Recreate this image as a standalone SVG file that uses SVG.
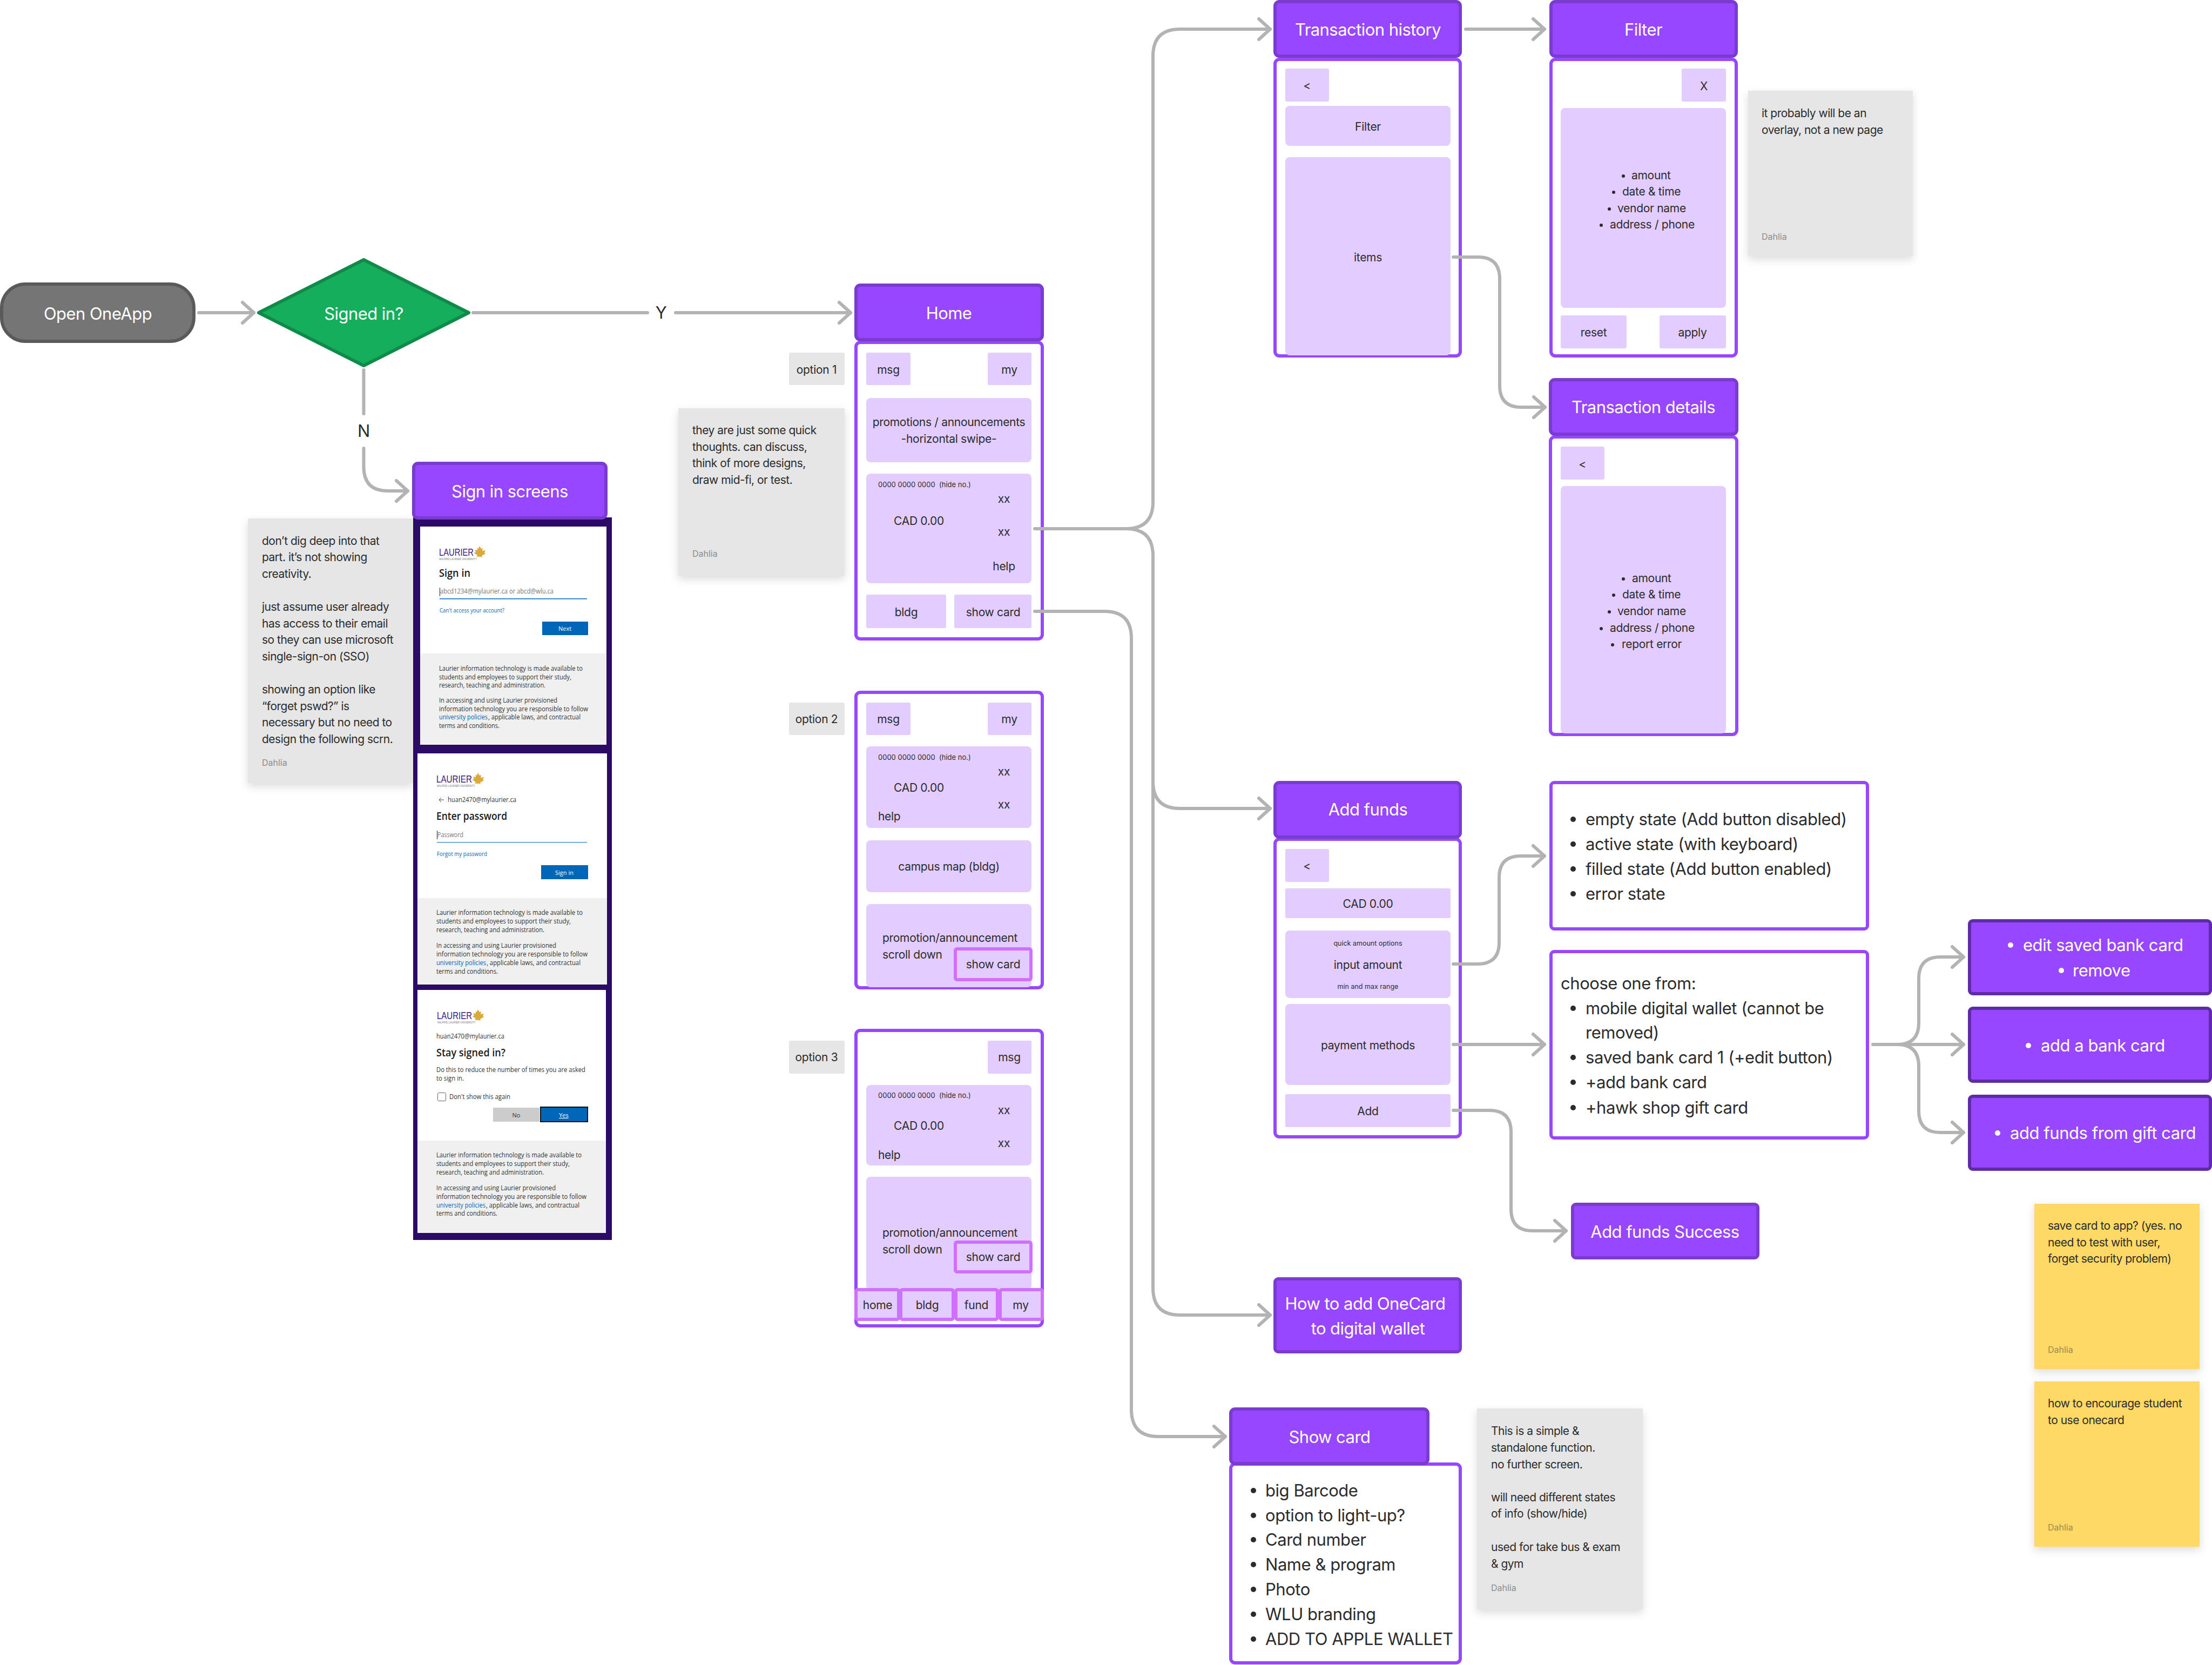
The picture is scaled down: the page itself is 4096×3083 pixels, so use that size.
<svg xmlns="http://www.w3.org/2000/svg" width="4096" height="3083" viewBox="0 0 4096 3083">
<defs>
<filter id="sh" x="-10%" y="-10%" width="120%" height="120%"><feDropShadow dx="0" dy="6" stdDeviation="8" flood-color="#000" flood-opacity="0.14"/></filter>
<marker id="arr" markerUnits="userSpaceOnUse" markerWidth="36" markerHeight="50" refX="30" refY="25" orient="auto"><path d="M9 6 L30 25 L9 44" fill="none" stroke="#b3b3b3" stroke-width="6" stroke-linecap="round" stroke-linejoin="round"/></marker>
<g id="leaf"><path d="M10 0 L13 5 L16 4 L15 9 L21 8 L19 12 L21 14 L14 18 L15 21 L10 19.5 L10 22 L9 19.5 L4 20 L6 17 L0 13 L3 11 L1 7 L6 8 L6 3 L8 5 Z" fill="#d9a93b"/></g>
</defs>
<style>
text{font-family:"Inter","Noto Sans",sans-serif;fill:#2c2c2c}
.hd{fill:#9747ff;stroke:#7a3bcf;stroke-width:6}
.bd{fill:#fff;stroke:#9747ff;stroke-width:6}
.li{fill:#e3ccff}
.hl{fill:#e3ccff;stroke:#d070ff;stroke-width:6}
.opt{fill:#e6e6e6}
.note{fill:#e6e6e6;filter:url(#sh)}
.yel{fill:#ffd966;filter:url(#sh)}
.ht{fill:#fff;font-size:31px;text-anchor:middle;letter-spacing:-.55px;transform:translateY(1px)}
.s{font-size:21px;letter-spacing:-.3px;transform:translateY(1px)}
.c{text-anchor:middle}
.xs{font-size:13px;white-space:pre}
.m{font-size:31px;letter-spacing:-.45px}
.n{font-size:21px;letter-spacing:-.5px}
.by{font-size:16px;fill:#8c8c8c}
.ms{font-family:"Open Sans","Noto Sans",sans-serif;font-size:12.5px;fill:#333}
.msh{font-family:"Open Sans","Noto Sans",sans-serif;font-size:19px;font-weight:600;fill:#1b1b1b}
.lnk{fill:#0067b8}
.lau{font-family:"Liberation Sans",sans-serif;font-size:18px;fill:#3b1a80}
.lau2{font-family:"Liberation Sans",sans-serif;font-size:4.5px;fill:#777}
.conn{fill:none;stroke:#b3b3b3;stroke-width:6;stroke-linecap:round}
.dot{fill:#2c2c2c}
</style>

<g id="open-oneapp"><rect x="3" y="526" width="356" height="106" rx="44" fill="#757575" stroke="#5a5a5a" stroke-width="6"/><text x="181" y="591" class="ht">Open OneApp</text></g>
<g id="signed-in"><path d="M673.5 481 L868 579 L673.5 677 L479 579 Z" fill="#14ae5c" stroke="#0f8a49" stroke-width="6" stroke-linejoin="round"/><text x="673.5" y="591" class="ht">Signed in?</text></g>
<g id="label-n"><text x="673.5" y="809" class="m c">N</text></g>
<g id="label-y"><text x="1224" y="590" class="m c">Y</text></g>

<g id="sign-in-note"><rect class="note" x="459" y="960" width="306" height="490"/>
<text class="n" x="485" y="1009">don’t dig deep into that</text><text class="n" x="485" y="1039">part. it’s not showing</text><text class="n" x="485" y="1070">creativity.</text>
<text class="n" x="485" y="1131">just assume user already</text><text class="n" x="485" y="1162">has access to their email</text><text class="n" x="485" y="1192">so they can use microsoft</text><text class="n" x="485" y="1223">single-sign-on (SSO)</text>
<text class="n" x="485" y="1284">showing an option like</text><text class="n" x="485" y="1315">“forget pswd?” is</text><text class="n" x="485" y="1345">necessary but no need to</text><text class="n" x="485" y="1376">design the following scrn.</text>
<text class="by" x="485" y="1418">Dahlia</text></g>

<g id="sign-in-screens">
<rect x="765" y="958" width="368" height="1338" fill="#2c0b66"/>
<rect x="778" y="975" width="345" height="235" fill="#fff"/><rect x="778" y="1210" width="345" height="169" fill="#f0f0f0"/>
<text class="lau" x="813" y="1029" textLength="64" lengthAdjust="spacingAndGlyphs">LAURIER</text><use href="#leaf" x="878" y="1011"/><text class="lau2" x="813" y="1037" textLength="70" lengthAdjust="spacingAndGlyphs">WILFRID LAURIER UNIVERSITY</text>
<text class="msh" x="813" y="1068" textLength="58" lengthAdjust="spacingAndGlyphs">Sign in</text>
<rect x="814" y="1088" width="1" height="16" fill="#222"/>
<text class="ms" x="815" y="1099" textLength="210" lengthAdjust="spacingAndGlyphs" style="fill:#777">abcd1234@mylaurier.ca or abcd@wlu.ca</text>
<rect x="814" y="1108" width="273" height="1.5" fill="#0067b8"/>
<text class="ms lnk" x="814" y="1134" style="font-size:10.5px;fill:#0067b8" textLength="120" lengthAdjust="spacingAndGlyphs">Can't access your account?</text>
<rect x="1004" y="1151" width="85" height="25" fill="#0067b8"/><text class="ms c" x="1046" y="1168" style="fill:#fff;font-size:11px">Next</text>
<text class="ms" x="813" y="1242" textLength="266" lengthAdjust="spacingAndGlyphs">Laurier information technology is made available to</text><text class="ms" x="813" y="1258" textLength="245" lengthAdjust="spacingAndGlyphs">students and employees to support their study,</text><text class="ms" x="813" y="1273" textLength="197" lengthAdjust="spacingAndGlyphs">research, teaching and administration.</text>
<text class="ms" x="813" y="1301" textLength="219" lengthAdjust="spacingAndGlyphs">In accessing and using Laurier provisioned</text><text class="ms" x="813" y="1317" textLength="276" lengthAdjust="spacingAndGlyphs">information technology you are responsible to follow</text><text class="ms" x="813" y="1332" style="fill:#0067b8" textLength="90" lengthAdjust="spacingAndGlyphs">university policies</text><text class="ms" x="904" y="1332" textLength="171" lengthAdjust="spacingAndGlyphs">, applicable laws, and contractual</text><text class="ms" x="813" y="1348" textLength="112" lengthAdjust="spacingAndGlyphs">terms and conditions.</text>

<rect x="773" y="1395" width="351" height="268" fill="#fff"/><rect x="773" y="1663" width="351" height="160" fill="#f0f0f0"/>
<text class="lau" x="808" y="1449" textLength="66" lengthAdjust="spacingAndGlyphs">LAURIER</text><use href="#leaf" x="875" y="1431"/><text class="lau2" x="809" y="1457" textLength="71" lengthAdjust="spacingAndGlyphs">WILFRID LAURIER UNIVERSITY</text>
<path d="M822 1481 H813 M817 1477 L813 1481 L817 1485" fill="none" stroke="#444" stroke-width="1"/>
<text class="ms" x="829" y="1485" textLength="127" lengthAdjust="spacingAndGlyphs">huan2470@mylaurier.ca</text>
<text class="msh" x="808" y="1518" textLength="131" lengthAdjust="spacingAndGlyphs">Enter password</text>
<rect x="809" y="1538" width="1" height="16" fill="#222"/>
<text class="ms" x="810" y="1550" style="fill:#777" textLength="48" lengthAdjust="spacingAndGlyphs">Password</text>
<rect x="809" y="1559" width="278" height="1.5" fill="#4b97d9"/>
<text class="ms" x="809" y="1585" style="font-size:10.5px;fill:#0067b8" textLength="93" lengthAdjust="spacingAndGlyphs">Forgot my password</text>
<rect x="1002" y="1602" width="87" height="26" fill="#0067b8"/><text class="ms c" x="1045" y="1620" style="fill:#fff;font-size:11px">Sign in</text>
<text class="ms" x="808" y="1694" textLength="271" lengthAdjust="spacingAndGlyphs">Laurier information technology is made available to</text><text class="ms" x="808" y="1710" textLength="249" lengthAdjust="spacingAndGlyphs">students and employees to support their study,</text><text class="ms" x="808" y="1726" textLength="200" lengthAdjust="spacingAndGlyphs">research, teaching and administration.</text>
<text class="ms" x="808" y="1755" textLength="222" lengthAdjust="spacingAndGlyphs">In accessing and using Laurier provisioned</text><text class="ms" x="808" y="1771" textLength="280" lengthAdjust="spacingAndGlyphs">information technology you are responsible to follow</text><text class="ms" x="808" y="1787" style="fill:#0067b8" textLength="92" lengthAdjust="spacingAndGlyphs">university policies</text><text class="ms" x="901" y="1787" textLength="174" lengthAdjust="spacingAndGlyphs">, applicable laws, and contractual</text><text class="ms" x="808" y="1803" textLength="114" lengthAdjust="spacingAndGlyphs">terms and conditions.</text>

<rect x="773" y="1833" width="349" height="279" fill="#fff"/><rect x="773" y="2112" width="349" height="171" fill="#f0f0f0"/>
<text class="lau" x="809" y="1887" textLength="65" lengthAdjust="spacingAndGlyphs">LAURIER</text><use href="#leaf" x="875" y="1869"/><text class="lau2" x="810" y="1895" textLength="71" lengthAdjust="spacingAndGlyphs">WILFRID LAURIER UNIVERSITY</text>
<text class="ms" x="808" y="1923" textLength="126" lengthAdjust="spacingAndGlyphs">huan2470@mylaurier.ca</text>
<text class="msh" x="808" y="1956" textLength="128" lengthAdjust="spacingAndGlyphs">Stay signed in?</text>
<text class="ms" x="808" y="1985" textLength="276" lengthAdjust="spacingAndGlyphs">Do this to reduce the number of times you are asked</text><text class="ms" x="808" y="2001" textLength="51" lengthAdjust="spacingAndGlyphs">to sign in.</text>
<rect x="810.5" y="2023.5" width="15" height="15" rx="2" fill="#fff" stroke="#666" stroke-width="1"/>
<text class="ms" x="832" y="2035" textLength="113" lengthAdjust="spacingAndGlyphs">Don't show this again</text>
<rect x="913" y="2051" width="86" height="26" fill="#ccc"/><text class="ms c" x="956" y="2069" style="font-size:11px">No</text>
<rect x="1001" y="2050" width="87" height="27" fill="#0067b8" stroke="#111" stroke-width="2"/><text class="ms c" x="1044" y="2069" style="fill:#fff;font-size:11px;text-decoration:underline">Yes</text>
<text class="ms" x="808" y="2143" textLength="269" lengthAdjust="spacingAndGlyphs">Laurier information technology is made available to</text><text class="ms" x="808" y="2159" textLength="247" lengthAdjust="spacingAndGlyphs">students and employees to support their study,</text><text class="ms" x="808" y="2175" textLength="199" lengthAdjust="spacingAndGlyphs">research, teaching and administration.</text>
<text class="ms" x="808" y="2204" textLength="221" lengthAdjust="spacingAndGlyphs">In accessing and using Laurier provisioned</text><text class="ms" x="808" y="2220" textLength="278" lengthAdjust="spacingAndGlyphs">information technology you are responsible to follow</text><text class="ms" x="808" y="2236" style="fill:#0067b8" textLength="91" lengthAdjust="spacingAndGlyphs">university policies</text><text class="ms" x="900" y="2236" textLength="173" lengthAdjust="spacingAndGlyphs">, applicable laws, and contractual</text><text class="ms" x="808" y="2251" textLength="113" lengthAdjust="spacingAndGlyphs">terms and conditions.</text>
</g>
<g id="sign-in-header"><rect class="hd" x="766" y="858" width="356" height="101" rx="8"/><text x="944" y="920" class="ht">Sign in screens</text></g>

<g id="home"><rect class="bd" x="1585" y="634" width="345" height="549" rx="8"/><rect class="hd" x="1585" y="528" width="345" height="101" rx="8"/><text x="1757" y="590" class="ht">Home</text>
<rect class="li" x="1604" y="653" width="82" height="60" rx="3"/><text class="s c" x="1645" y="691">msg</text>
<rect class="li" x="1829" y="653" width="81" height="60" rx="3"/><text class="s c" x="1869" y="691">my</text>
<rect class="li" x="1604" y="737" width="306" height="119" rx="8"/><text class="s c" x="1757" y="788">promotions / announcements</text><text class="s c" x="1757" y="819">-horizontal swipe-</text>
<rect class="li" x="1604" y="877" width="306" height="203" rx="8"/><text class="xs" x="1626" y="902" xml:space="preserve">0000 0000 0000  (hide no.)</text><text class="s c" x="1859" y="930">xx</text><text class="s c" x="1859" y="991">xx</text><text class="s" x="1701.5" y="971" text-anchor="middle">CAD 0.00</text><text class="s c" x="1859" y="1055">help</text>
<rect class="li" x="1604" y="1101" width="148" height="62" rx="3"/><text class="s c" x="1678" y="1140">bldg</text>
<rect class="li" x="1767" y="1101" width="143" height="62" rx="3"/><text class="s c" x="1839" y="1140">show card</text>
</g>
<g id="option-1"><rect class="opt" x="1461" y="653" width="103" height="60" rx="3"/><text class="s c" x="1512" y="691">option 1</text></g>
<g id="home-note"><rect class="note" x="1256" y="756" width="308" height="310"/><text class="n" x="1282" y="804">they are just some quick</text><text class="n" x="1282" y="835">thoughts. can discuss,</text><text class="n" x="1282" y="865">think of more designs,</text><text class="n" x="1282" y="896">draw mid-fi, or test.</text><text class="by" x="1282" y="1031">Dahlia</text></g>

<g id="home-option-2"><rect class="bd" x="1585" y="1282" width="345" height="547" rx="8"/>
<rect class="li" x="1604" y="1301" width="82" height="60" rx="3"/><text class="s c" x="1645" y="1338">msg</text>
<rect class="li" x="1829" y="1301" width="81" height="60" rx="3"/><text class="s c" x="1869" y="1338">my</text>
<rect class="li" x="1604" y="1382" width="306" height="151" rx="8"/><text class="xs" x="1626" y="1407" xml:space="preserve">0000 0000 0000  (hide no.)</text><text class="s c" x="1859" y="1435">xx</text><text class="s c" x="1859" y="1496">xx</text><text class="s c" x="1701.5" y="1465">CAD 0.00</text><text class="s" x="1626" y="1518">help</text>
<rect class="li" x="1604" y="1556" width="306" height="96" rx="8"/><text class="s c" x="1757" y="1611">campus map (bldg)</text>
<rect class="li" x="1604" y="1674" width="306" height="154" rx="8"/><text class="s" x="1634" y="1743">promotion/announcement</text><text class="s" x="1634" y="1774">scroll down</text>
<rect class="hl" x="1769" y="1757" width="140" height="57" rx="3"/><text class="s c" x="1839" y="1792">show card</text>
</g>
<g id="option-2"><rect class="opt" x="1461" y="1301" width="103" height="60" rx="3"/><text class="s c" x="1512" y="1338">option 2</text></g>

<g id="home-option-3"><rect class="bd" x="1585" y="1908" width="345" height="547" rx="8"/>
<rect class="li" x="1829" y="1927" width="81" height="61" rx="3"/><text class="s c" x="1869" y="1964">msg</text>
<rect class="li" x="1604" y="2009" width="306" height="149" rx="8"/><text class="xs" x="1626" y="2033" xml:space="preserve">0000 0000 0000  (hide no.)</text><text class="s c" x="1859" y="2062">xx</text><text class="s c" x="1859" y="2123">xx</text><text class="s c" x="1701.5" y="2091">CAD 0.00</text><text class="s" x="1626" y="2145">help</text>
<rect class="li" x="1604" y="2179" width="306" height="210" rx="8"/><text class="s" x="1634" y="2289">promotion/announcement</text><text class="s" x="1634" y="2320">scroll down</text>
<rect class="hl" x="1769" y="2300" width="140" height="55" rx="3"/><text class="s c" x="1839" y="2334">show card</text>
<rect class="hl" x="1585" y="2388" width="79" height="55" rx="3"/><text class="s c" x="1625" y="2423">home</text>
<rect class="hl" x="1668" y="2388" width="97" height="55" rx="3"/><text class="s c" x="1717" y="2423">bldg</text>
<rect class="hl" x="1770" y="2388" width="77" height="55" rx="3"/><text class="s c" x="1808" y="2423">fund</text>
<rect class="hl" x="1852" y="2388" width="78" height="55" rx="3"/><text class="s c" x="1890" y="2423">my</text>
</g>
<g id="option-3"><rect class="opt" x="1461" y="1927" width="103" height="61" rx="3"/><text class="s c" x="1512" y="1964">option 3</text></g>

<g id="transaction-history"><rect class="bd" x="2361" y="110" width="343" height="549" rx="8"/><rect class="hd" x="2361" y="3" width="343" height="101" rx="8"/><text x="2533" y="65" class="ht">Transaction history</text>
<rect class="li" x="2380" y="127" width="81" height="61" rx="3"/><text class="s c" x="2420" y="165">&lt;</text>
<rect class="li" x="2380" y="196" width="306" height="74" rx="8"/><text class="s c" x="2533" y="241">Filter</text>
<rect class="li" x="2380" y="291" width="306" height="367" rx="8"/><text class="s c" x="2533" y="483">items</text></g>

<g id="filter"><rect class="bd" x="2872" y="110" width="343" height="549" rx="8"/><rect class="hd" x="2872" y="3" width="343" height="101" rx="8"/><text x="3043" y="65" class="ht">Filter</text>
<rect class="li" x="3114" y="127" width="82" height="61" rx="3"/><text class="s c" x="3155" y="166">X</text>
<rect class="li" x="2890" y="200" width="306" height="370" rx="8"/>
<circle class="dot" cx="3006" cy="326" r="3"/><text class="s" x="3021" y="331">amount</text>
<circle class="dot" cx="2988" cy="356" r="3"/><text class="s" x="3004" y="361">date &amp; time</text>
<circle class="dot" cx="2980" cy="387" r="3"/><text class="s" x="2995" y="392">vendor name</text>
<circle class="dot" cx="2965" cy="417" r="3"/><text class="s" x="2981" y="422">address / phone</text>
<rect class="li" x="2890" y="584" width="122" height="61" rx="3"/><text class="s c" x="2951" y="622">reset</text>
<rect class="li" x="3073" y="584" width="123" height="61" rx="3"/><text class="s c" x="3134" y="622">apply</text></g>
<g id="filter-note"><rect class="note" x="3237" y="168" width="305" height="306"/><text class="n" x="3262" y="217">it probably will be an</text><text class="n" x="3262" y="248">overlay, not a new page</text><text class="by" x="3262" y="444">Dahlia</text></g>

<g id="transaction-details"><rect class="bd" x="2871" y="809" width="345" height="551" rx="8"/><rect class="hd" x="2871" y="703" width="345" height="101" rx="8"/><text x="3043" y="764" class="ht">Transaction details</text>
<rect class="li" x="2890" y="827" width="81" height="61" rx="3"/><text class="s c" x="2930" y="866">&lt;</text>
<rect class="li" x="2890" y="900" width="306" height="458" rx="8"/>
<circle class="dot" cx="3006" cy="1072" r="3"/><text class="s" x="3022" y="1077">amount</text>
<circle class="dot" cx="2988" cy="1102" r="3"/><text class="s" x="3004" y="1107">date &amp; time</text>
<circle class="dot" cx="2980" cy="1133" r="3"/><text class="s" x="2995" y="1138">vendor name</text>
<circle class="dot" cx="2965" cy="1164" r="3"/><text class="s" x="2981" y="1169">address / phone</text>
<circle class="dot" cx="2986" cy="1194" r="3"/><text class="s" x="3003" y="1199">report error</text></g>

<g id="add-funds"><rect class="bd" x="2361" y="1554" width="343" height="551" rx="8"/><rect class="hd" x="2361" y="1449" width="343" height="101" rx="8"/><text x="2533" y="1509" class="ht">Add funds</text>
<rect class="li" x="2380" y="1572" width="81" height="61" rx="3"/><text class="s c" x="2420" y="1610">&lt;</text>
<rect class="li" x="2380" y="1645" width="306" height="55" rx="3"/><text class="s c" x="2533" y="1680">CAD 0.00</text>
<rect class="li" x="2380" y="1723" width="306" height="125" rx="8"/><text class="c" style="font-size:12.5px" x="2533" y="1751">quick amount options</text><text class="s c" x="2533" y="1793">input amount</text><text class="c" style="font-size:12.5px" x="2533" y="1831">min and max range</text>
<rect class="li" x="2380" y="1859" width="306" height="150" rx="8"/><text class="s c" x="2533" y="1942">payment methods</text>
<rect class="li" x="2380" y="2026" width="306" height="61" rx="3"/><text class="s c" x="2533" y="2064">Add</text></g>

<g id="states"><rect class="bd" x="2872" y="1449" width="586" height="271" rx="6"/>
<circle class="dot" cx="2913" cy="1517" r="5"/><text class="m" x="2936" y="1528">empty state (Add button disabled)</text>
<circle class="dot" cx="2913" cy="1563" r="5"/><text class="m" x="2936" y="1574">active state (with keyboard)</text>
<circle class="dot" cx="2913" cy="1609" r="5"/><text class="m" x="2936" y="1620">filled state (Add button enabled)</text>
<circle class="dot" cx="2913" cy="1655" r="5"/><text class="m" x="2936" y="1666">error state</text></g>

<g id="payment-options"><rect class="bd" x="2872" y="1762" width="586" height="345" rx="6"/>
<text class="m" x="2890" y="1832">choose one from:</text>
<circle class="dot" cx="2913" cy="1867" r="5"/><text class="m" x="2936" y="1878">mobile digital wallet (cannot be</text><text class="m" x="2936" y="1923">removed)</text>
<circle class="dot" cx="2913" cy="1958" r="5"/><text class="m" x="2936" y="1969">saved bank card 1 (+edit button)</text>
<circle class="dot" cx="2913" cy="2004" r="5"/><text class="m" x="2936" y="2015">+add bank card</text>
<circle class="dot" cx="2913" cy="2051" r="5"/><text class="m" x="2936" y="2062">+hawk shop gift card</text></g>

<g id="edit-bank"><rect x="3647" y="1705" width="446" height="135" rx="6" fill="#9747ff" stroke="#5f2ca8" stroke-width="6"/><circle cx="3723" cy="1750" r="5" fill="#fff"/><text class="m" style="fill:#fff" x="3746" y="1761">edit saved bank card</text><circle cx="3817" cy="1797" r="5" fill="#fff"/><text class="m" style="fill:#fff" x="3838" y="1808">remove</text></g>
<g id="add-bank"><rect x="3647" y="1867" width="446" height="135" rx="6" fill="#9747ff" stroke="#5f2ca8" stroke-width="6"/><circle cx="3756" cy="1936" r="5" fill="#fff"/><text class="m" style="fill:#fff" x="3779" y="1947">add a bank card</text></g>
<g id="gift-card"><rect x="3647" y="2030" width="446" height="135" rx="6" fill="#9747ff" stroke="#5f2ca8" stroke-width="6"/><circle cx="3699" cy="2098" r="5" fill="#fff"/><text class="m" style="fill:#fff" x="3722" y="2109">add funds from gift card</text></g>

<g id="add-funds-success"><rect class="hd" x="2912" y="2230" width="343" height="99" rx="6"/><text x="3083" y="2291" class="ht">Add funds Success</text></g>
<g id="how-to-add"><rect class="hd" x="2361" y="2368" width="343" height="135" rx="6"/><text x="2528" y="2424" class="ht">How to add OneCard</text><text x="2533" y="2470" class="ht">to digital wallet</text></g>

<g id="show-card"><rect class="bd" x="2279" y="2711" width="425" height="368" rx="8"/><rect class="hd" x="2279" y="2609" width="365" height="101" rx="8"/><text x="2462" y="2671" class="ht">Show card</text>
<circle class="dot" cx="2321" cy="2760" r="5"/><text class="m" x="2343" y="2771">big Barcode</text>
<circle class="dot" cx="2321" cy="2806" r="5"/><text class="m" x="2343" y="2817">option to light-up?</text>
<circle class="dot" cx="2321" cy="2851" r="5"/><text class="m" x="2343" y="2862">Card number</text>
<circle class="dot" cx="2321" cy="2897" r="5"/><text class="m" x="2343" y="2908">Name &amp; program</text>
<circle class="dot" cx="2321" cy="2943" r="5"/><text class="m" x="2343" y="2954">Photo</text>
<circle class="dot" cx="2321" cy="2989" r="5"/><text class="m" x="2343" y="3000">WLU branding</text>
<circle class="dot" cx="2321" cy="3035" r="5"/><text class="m" x="2343" y="3046">ADD TO APPLE WALLET</text></g>
<g id="show-card-note"><rect class="note" x="2735" y="2608" width="307" height="372"/>
<text class="n" x="2761" y="2657">This is a simple &amp;</text><text class="n" x="2761" y="2688">standalone function.</text><text class="n" x="2761" y="2719">no further screen.</text>
<text class="n" x="2761" y="2780">will need different states</text><text class="n" x="2761" y="2810">of info (show/hide)</text>
<text class="n" x="2761" y="2872">used for take bus &amp; exam</text><text class="n" x="2761" y="2903">&amp; gym</text>
<text class="by" x="2761" y="2946">Dahlia</text></g>
<g id="sticky-1"><rect class="yel" x="3767" y="2229" width="306" height="306"/><text class="n" x="3792" y="2277">save card to app? (yes. no</text><text class="n" x="3792" y="2308">need to test with user,</text><text class="n" x="3792" y="2338">forget security problem)</text><text class="by" style="fill:#9a8a50" x="3792" y="2505">Dahlia</text></g>
<g id="sticky-2"><rect class="yel" x="3767" y="2558" width="306" height="306"/><text class="n" x="3792" y="2606">how to encourage student</text><text class="n" x="3792" y="2637">to use onecard</text><text class="by" style="fill:#9a8a50" x="3792" y="2834">Dahlia</text></g>

<g id="connectors">
<path class="conn" marker-end="url(#arr)" d="M368 579 H470"/>
<path class="conn" d="M876 579 H1199"/>
<path class="conn" marker-end="url(#arr)" d="M1251 579 H1575"/>
<path class="conn" d="M673.5 685 V766"/>
<path class="conn" marker-end="url(#arr)" d="M673.5 830 V864 Q673.5 909 718 909 H755"/>
<path class="conn" marker-end="url(#arr)" d="M1916 979 H2085 Q2135 979 2135 929 V104 Q2135 54 2185 54 H2352"/>
<path class="conn" marker-end="url(#arr)" d="M2085 979 Q2135 979 2135 1029 V1447 Q2135 1497 2185 1497 H2352"/>
<path class="conn" marker-end="url(#arr)" d="M2135 1400 V2385 Q2135 2435 2185 2435 H2352"/>
<path class="conn" marker-end="url(#arr)" d="M1916 1132 H2045 Q2095 1132 2095 1182 V2610 Q2095 2660 2145 2660 H2269"/>
<path class="conn" marker-end="url(#arr)" d="M2714 54 H2860"/>
<path class="conn" marker-end="url(#arr)" d="M2691 476 H2737 Q2777 476 2777 516 V714 Q2777 754 2817 754 H2861"/>
<path class="conn" marker-end="url(#arr)" d="M2691 1785 H2736 Q2776 1785 2776 1745 V1625 Q2776 1585 2816 1585 H2860"/>
<path class="conn" marker-end="url(#arr)" d="M2691 1934 H2860"/>
<path class="conn" marker-end="url(#arr)" d="M2691 2056 H2758 Q2798 2056 2798 2096 V2239 Q2798 2279 2838 2279 H2900"/>
<path class="conn" marker-end="url(#arr)" d="M3468 1934 H3636"/>
<path class="conn" marker-end="url(#arr)" d="M3513 1934 Q3553 1934 3553 1894 V1812 Q3553 1772 3593 1772 H3636"/>
<path class="conn" marker-end="url(#arr)" d="M3513 1934 Q3553 1934 3553 1974 V2057 Q3553 2097 3593 2097 H3636"/>
</g>
</svg>
